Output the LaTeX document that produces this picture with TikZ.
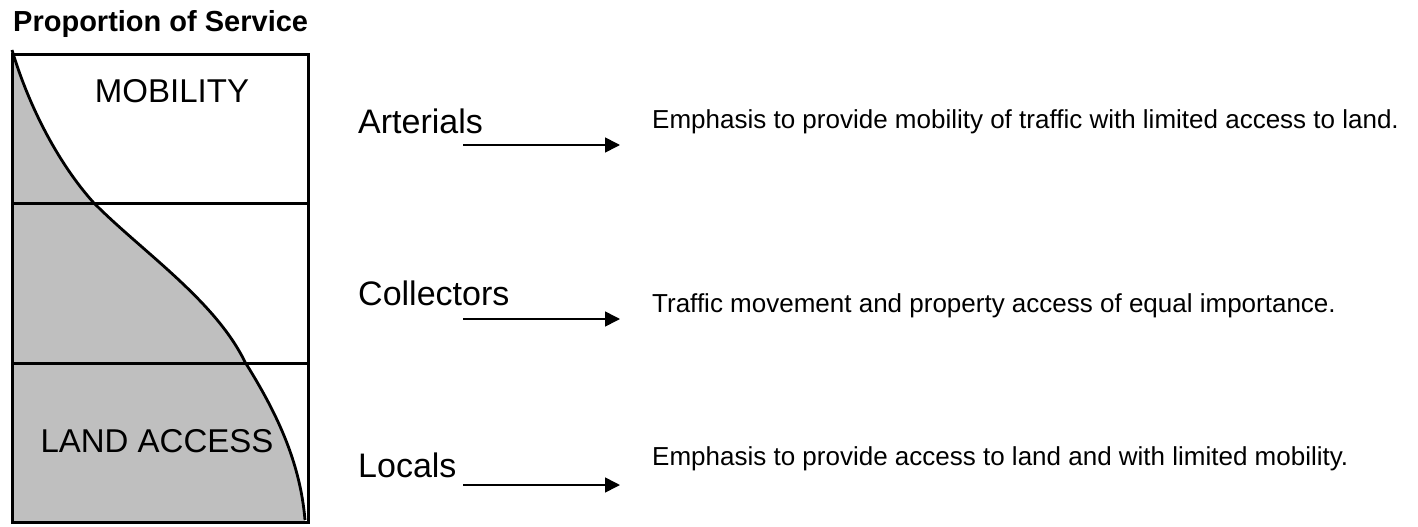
\documentclass[tikz,border=0pt]{standalone}
\usepackage{fontspec}
\setmainfont{Liberation Sans}
\usepackage{tikz}
\usetikzlibrary{arrows.meta, positioning}

\begin{document}
\begin{tikzpicture}[
        x=1pt, y=-1pt,
        title/.style={anchor=base west, inner sep=0pt, font=\fontsize{29}{34}\selectfont\bfseries},
        zone/.style={anchor=base, inner sep=0pt, font=\fontsize{33}{38}\selectfont},
        roadtype/.style={anchor=base west, inner sep=0pt, font=\fontsize{34}{40}\selectfont},
        desc/.style={anchor=base west, inner sep=0pt, font=\fontsize{26}{31}\selectfont},
        arrow/.style={-{Triangle[length=15pt, width=15pt]}, line width=1.6pt},
        frame/.style={line width=3pt}
    ]
        \useasboundingbox (0,0) rectangle (1418,527);

        % shaded share of land access
        \fill[black!25] (12,50) .. controls (30,110) and (60,165) .. (93,202)
            .. controls (140,250) and (215,300) .. (245,362)
            .. controls (275,410) and (300,460) .. (305,520)
            -- (305,522) -- (12,522) -- cycle;

        % the column and its three bands
        \draw[frame] (12,55) rectangle (308,522);
        \draw[frame] (12,203) -- (308,203);
        \draw[frame] (12,363) -- (308,363);
        \draw[line width=2.8pt] (12,50) .. controls (30,110) and (60,165) .. (93,202)
            .. controls (140,250) and (215,300) .. (245,362)
            .. controls (275,410) and (300,460) .. (305,520);

        \node[title] (head) at (13,32) {Proportion of Service};
        \node[zone] (mob) at (172,102) {MOBILITY};
        \node[zone] (land) at (157,452) {LAND ACCESS};

        % road classes
        \node[roadtype] (art) at (358,133) {Arterials};
        \node[roadtype] (col) at (358,305) {Collectors};
        \node[roadtype] (loc) at (358,477) {Locals};

        \node[desc] (artdesc) at (652,128) {Emphasis to provide mobility of traffic with limited access to land.};
        \node[desc] (coldesc) at (652,312) {Traffic movement and property access of equal importance.};
        \node[desc] (locdesc) at (652,465) {Emphasis to provide access to land and with limited mobility.};

        \coordinate (arts) at (463,145);
        \coordinate (arte) at (620,145);
        \coordinate (cols) at (463,319);
        \coordinate (cole) at (620,319);
        \coordinate (locs) at (463,485);
        \coordinate (loce) at (620,485);

        \draw[arrow] (arts) -- (arte);
        \draw[arrow] (cols) -- (cole);
        \draw[arrow] (locs) -- (loce);
    \end{tikzpicture}
\end{document}
